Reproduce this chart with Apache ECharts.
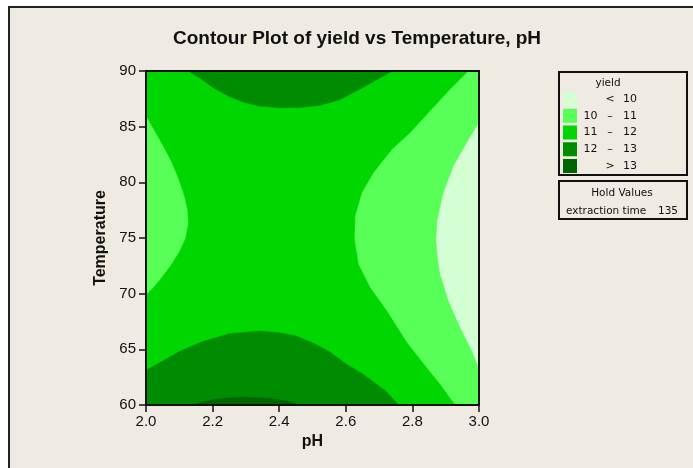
<!DOCTYPE html>
<html>
<head>
<meta charset="utf-8">
<script src="https://cdn.jsdelivr.net/npm/echarts@6/dist/echarts.min.js"></script>
<style>
  html, body { margin: 0; padding: 0; background: #ffffff; }
  #frame {
    position: absolute; left: 8px; top: 6px; right: 0; bottom: 0;
    background: #EFEBE2; border-left: 2px solid #222; border-top: 2px solid #222;
  }
  #chart { position: absolute; left: 0; top: 0; width: 693px; height: 468px; }
</style>
</head>
<body>
<div id="frame"></div>
<div id="chart"></div>
<script>
// Axis ranges and ticks
const phRange = [2.0, 3.0];
const phStep = 0.2;
const tempRange = [60, 90];
const tempStep = 5;

// Yield levels, lowest to highest
const levelLow = ['', '10', '11', '12', ''];
const levelSym = ['<', '–', '–', '–', '>'];
const levelHigh = ['10', '11', '12', '13', '13'];
const levelNames = ['< 10', '10 – 11', '11 – 12', '12 – 13', '> 13'];

// Held factor
const holdNames = ['extraction time'];
const holdValues = [135];

// Contour regions as [pH, Temperature] outlines
const band11to12 = [[2.0, 60], [3.0, 60], [3.0, 90], [2.0, 90]];

const left10to11 = [
  [2.0, 85.95], [2.025, 84.6], [2.05, 83.3], [2.075, 81.9], [2.097, 80.3],
  [2.113, 78.9], [2.124, 77.5], [2.126, 76.3], [2.118, 75.0], [2.1, 73.8],
  [2.075, 72.6], [2.045, 71.4], [2.02, 70.5], [2.0, 69.93]
];

const right10to11 = [
  [2.969, 90], [2.914, 88.35], [2.849, 86.25], [2.794, 84.45], [2.739, 82.95],
  [2.684, 80.86], [2.649, 79.07], [2.629, 76.96], [2.627, 74.9], [2.639, 72.65],
  [2.674, 70.56], [2.724, 68.46], [2.785, 65.6], [2.84, 63.5], [2.884, 61.87],
  [2.929, 60], [3.0, 60], [3.0, 90]
];

const right10 = [
  [3.0, 85.35], [2.964, 83.55], [2.924, 81.46], [2.894, 79.07], [2.876, 76.67],
  [2.872, 74.9], [2.876, 73.3], [2.884, 71.75], [2.909, 69.36], [2.944, 66.96],
  [2.979, 64.87], [3.0, 63.37]
];

const top12to13 = [
  [2.127, 90], [2.165, 89.3], [2.202, 88.5], [2.25, 87.7], [2.293, 87.2],
  [2.34, 86.85], [2.40, 86.7], [2.46, 86.72], [2.52, 86.9], [2.58, 87.4],
  [2.644, 88.4], [2.704, 89.4], [2.739, 90]
];

const bottom12to13 = [
  [2.0, 60], [2.0, 63.1], [2.05, 63.95], [2.10, 64.8], [2.17, 65.7],
  [2.25, 66.4], [2.34, 66.65], [2.40, 66.5], [2.45, 66.2], [2.50, 65.6],
  [2.55, 64.8], [2.60, 63.7], [2.65, 62.8], [2.70, 61.7], [2.72, 61.25],
  [2.759, 60]
];

const bottom13 = [
  [2.14, 60], [2.18, 60.33], [2.22, 60.56], [2.26, 60.66], [2.30, 60.7],
  [2.34, 60.66], [2.383, 60.56], [2.42, 60.38], [2.463, 60]
];

// Fill colours per level
const levelColors = ['#D4FFD4', '#57FF57', '#00D600', '#008C00', '#006400'];

const ink = '#111111';
const tickFont = 'Liberation Sans, Arial, sans-serif';
const boxFont = 'DejaVu Sans, Verdana, sans-serif';

function regionSeries(levelIndex, polygons) {
  const color = levelColors[levelIndex];
  return {
    type: 'custom',
    name: levelNames[levelIndex],
    coordinateSystem: 'cartesian2d',
    clip: true,
    silent: true,
    z: 2,
    itemStyle: { color: color },
    data: polygons.map((p, i) => [i]),
    encode: { x: -1, y: -1 },
    renderItem: function (params, api) {
      const pts = polygons[params.dataIndex].map(p => api.coord(p));
      return {
        type: 'polygon',
        shape: { points: pts },
        style: { fill: color, stroke: color, lineWidth: 0.5 }
      };
    }
  };
}

const frameAxisLine = { show: true, onZero: false, lineStyle: { color: ink, width: 2 } };

const option = {
  backgroundColor: 'transparent',
  animation: false,
  title: {
    text: 'Contour Plot of yield vs Temperature, pH',
    left: 173,
    top: 29,
    padding: 0,
    textStyle: { fontFamily: tickFont, fontWeight: 'bold', fontSize: 19, color: ink }
  },
  grid: { left: 146, top: 71, width: 333, height: 334, containLabel: false },
  xAxis: [
    {
      type: 'value', position: 'bottom', min: phRange[0], max: phRange[1], interval: phStep,
      name: 'pH', nameLocation: 'middle', nameGap: 28,
      nameTextStyle: { fontFamily: tickFont, fontWeight: 'bold', fontSize: 16, color: ink },
      axisLine: frameAxisLine,
      axisTick: { show: true, inside: false, length: 7, lineStyle: { color: ink, width: 1.5 } },
      axisLabel: { margin: 9, fontSize: 15, color: ink, fontFamily: tickFont,
                   formatter: v => v.toFixed(1) },
      splitLine: { show: false }, z: 10
    },
    {
      type: 'value', position: 'top', min: phRange[0], max: phRange[1],
      axisLine: frameAxisLine, axisTick: { show: false }, axisLabel: { show: false },
      splitLine: { show: false }, z: 10
    }
  ],
  yAxis: [
    {
      type: 'value', position: 'left', min: tempRange[0], max: tempRange[1], interval: tempStep,
      name: 'Temperature', nameLocation: 'middle', nameGap: 37, nameRotate: 90,
      nameTextStyle: { fontFamily: tickFont, fontWeight: 'bold', fontSize: 16, color: ink },
      axisLine: frameAxisLine,
      axisTick: { show: true, inside: false, length: 7, lineStyle: { color: ink, width: 1.5 } },
      axisLabel: { margin: 10, fontSize: 15, color: ink, fontFamily: tickFont },
      splitLine: { show: false }, z: 10
    },
    {
      type: 'value', position: 'right', min: tempRange[0], max: tempRange[1],
      axisLine: frameAxisLine, axisTick: { show: false }, axisLabel: { show: false },
      splitLine: { show: false }, z: 10
    }
  ],
  legend: {
    orient: 'vertical',
    left: 563,
    top: 92,
    padding: 0,
    itemWidth: 14,
    itemHeight: 14,
    itemGap: 2.75,
    icon: 'rect',
    selectedMode: false,
    data: levelNames,
    formatter: function (name) {
      const i = levelNames.indexOf(name);
      const lo = levelLow[i] || '\u00a0';
      return '{a|' + lo + '}{b|' + levelSym[i] + '}{c|' + levelHigh[i] + '}';
    },
    textStyle: {
      fontFamily: boxFont, fontSize: 11, color: ink,
      rich: {
        a: { width: 17, align: 'right', fontFamily: boxFont, fontSize: 11, color: ink },
        b: { width: 22, align: 'center', fontFamily: boxFont, fontSize: 11, color: ink },
        c: { width: 16, align: 'right', fontFamily: boxFont, fontSize: 11, color: ink }
      }
    }
  },
  graphic: [
    { type: 'rect', shape: { x: 559, y: 72, width: 128, height: 103 },
      style: { fill: 'none', stroke: ink, lineWidth: 2 } },
    { type: 'text', x: 608, y: 83,
      style: { text: 'yield', fill: ink, font: '10.5px ' + boxFont, align: 'center', verticalAlign: 'middle' } },
    { type: 'rect', shape: { x: 559, y: 181, width: 128, height: 38 },
      style: { fill: 'none', stroke: ink, lineWidth: 2 } },
    { type: 'text', x: 622, y: 193,
      style: { text: 'Hold Values', fill: ink, font: '10.5px ' + boxFont, align: 'center', verticalAlign: 'middle' } },
    { type: 'text', x: 566, y: 211,
      style: { text: holdNames[0], fill: ink, font: '10.5px ' + boxFont, align: 'left', verticalAlign: 'middle' } },
    { type: 'text', x: 678, y: 211,
      style: { text: String(holdValues[0]), fill: ink, font: '10.5px ' + boxFont, align: 'right', verticalAlign: 'middle' } }
  ],
  series: [
    regionSeries(2, [band11to12]),
    regionSeries(1, [left10to11, right10to11]),
    regionSeries(0, [right10]),
    regionSeries(3, [top12to13, bottom12to13]),
    regionSeries(4, [bottom13])
  ]
};

const chart = echarts.init(document.getElementById('chart'), null, { renderer: 'canvas' });
chart.setOption(option);
</script>
</body>
</html>
